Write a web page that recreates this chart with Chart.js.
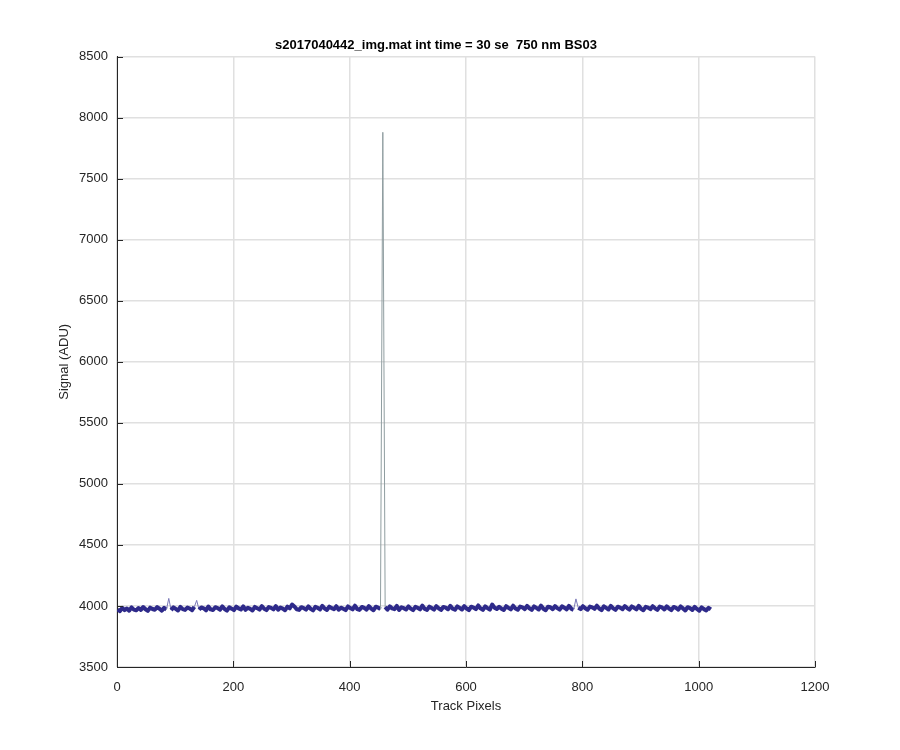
<!DOCTYPE html>
<html>
<head>
<meta charset="utf-8">
<script src="https://cdn.jsdelivr.net/npm/chart.js@4/dist/chart.umd.min.js"></script>
<style>
  html, body { margin: 0; padding: 0; background: #fff; }
  canvas { display: block; }
</style>
</head>
<body>
<canvas id="myChart" width="900" height="750"></canvas>
<script>
// Titulos y ejes
const chartTitle = "s2017040442_img.mat int time = 30 se  750 nm BS03";
const xLabel = "Track Pixels";
const yLabel = "Signal (ADU)";
const xTicks = [0, 200, 400, 600, 800, 1000, 1200];
const yTicks = [3500, 4000, 4500, 5000, 5500, 6000, 6500, 7000, 7500, 8000, 8500];

// Senal (una muestra cada 4 pixeles)
const pixelStep = 4;
const signal = [
  3972,3958,3985,3966,3979,3961,3988,3970,3964,3983,3968,3991,3973,3960,3986,3975,
  3969,3990,3977,3962,3984,3971,4062,3966,3989,3976,3963,3992,3974,3968,3987,3979,
  3965,3993,4046,3970,3988,3981,3964,3995,3972,3967,3990,3983,3969,3996,3975,3962,
  3989,3978,3966,3994,3980,3971,3997,3968,3985,3976,3963,3992,3982,3970,3998,3977,
  3966,3991,3984,3972,3999,3969,3987,3978,3965,3994,3981,4012,3996,3973,3968,3990,
  3983,3970,3997,3976,3964,3993,3985,3971,4001,3979,3967,3995,3982,3974,3998,3969,
  3986,3977,3966,3996,3983,3972,4002,3975,3968,3992,3984,3970,3999,3978,3965,3994,
  3987,3973,7880,3991,3969,3997,3980,3974,4000,3967,3989,3982,3971,3996,3978,3966,
  3993,3985,3972,4003,3976,3968,3995,3983,3970,3998,3981,3967,3992,3986,3973,4001,
  3977,3969,3996,3984,3971,3999,3979,3966,3994,3987,3974,4004,3980,3968,3997,3983,
  3970,4012,3986,3975,3993,3978,3967,3998,3985,3972,4002,3979,3969,3995,3988,3974,
  4000,3981,3968,3996,3984,3971,4003,3977,3965,3994,3989,3973,3999,3982,3970,3997,
  3986,3972,4001,3978,3967,4058,3985,3974,3998,3981,3969,3995,3988,3976,4002,3979,
  3966,3997,3984,3971,4000,3980,3968,3994,3987,3973,3999,3983,3970,3996,3985,3972,
  4001,3977,3965,3993,3986,3974,3998,3981,3968,3995,3988,3971,3997,3979,3966,3992,
  3984,3970,3996,3980,3963,3990,3982,3967,3993,3976,3961,3988,3974,3964,3985,3972
];
// Muestras con picos (rayos cosmicos)
const spikeIndices = [22, 34, 114, 197];
const mainSpike = 114;

const points = signal.map((v, i) => ({ x: 1 + i * pixelStep, y: v }));

function spikeOf(c) {
  return spikeIndices.find((s) => c.p0DataIndex === s - 1 || c.p0DataIndex === s);
}

// Marcas de los ejes hacia dentro (estilo MATLAB)
const innerTicks = {
  id: "innerTicks",
  afterDraw(chart) {
    const ctx = chart.ctx;
    const xs = chart.scales.x;
    const ys = chart.scales.y;
    const len = 6;
    ctx.save();
    ctx.strokeStyle = "#262626";
    ctx.lineWidth = 1;
    ctx.beginPath();
    yTicks.forEach((t) => {
      const y = Math.round(ys.getPixelForValue(t)) + 0.5;
      ctx.moveTo(xs.left, y);
      ctx.lineTo(xs.left + len, y);
    });
    xTicks.forEach((t) => {
      const x = Math.round(xs.getPixelForValue(t)) + 0.5;
      ctx.moveTo(x, ys.bottom);
      ctx.lineTo(x, ys.bottom - len);
    });
    ctx.stroke();
    ctx.restore();
  },
};

const font = "'Liberation Sans', Arial, Helvetica, sans-serif";

const ctx = document.getElementById("myChart").getContext("2d");
const myChart = new Chart(ctx, {
  type: "line",
  data: {
    datasets: [
      {
        data: points,
        borderColor: "#2e2a8a",
        borderWidth: 4,
        borderJoinStyle: "round",
        pointRadius: 0,
        tension: 0,
        segment: {
          borderColor: (c) => {
            const s = spikeOf(c);
            if (s === undefined) return undefined;
            return s === mainSpike ? "#8f9da0" : "#7a78b8";
          },
          borderWidth: (c) => (spikeOf(c) === undefined ? undefined : 1),
        },
      },
    ],
  },
  options: {
    responsive: false,
    animation: false,
    layout: { padding: { left: 57, right: 85, top: 0, bottom: 0 } },
    plugins: {
      legend: { display: false },
      tooltip: { enabled: false },
      title: {
        display: true,
        text: chartTitle,
        color: "#000",
        font: { family: font, size: 13, weight: "bold" },
        padding: { top: 38, bottom: 3 },
      },
    },
    scales: {
      x: {
        type: "linear",
        min: 0,
        max: 1200,
        afterBuildTicks: (s) => { s.ticks = xTicks.map((v) => ({ value: v })); },
        afterFit: (s) => { s.height = 83; },
        grid: { color: "#e0e0e0", lineWidth: 1.5, drawTicks: false },
        border: { color: "#262626", width: 1 },
        ticks: {
          color: "#262626",
          padding: 13,
          font: { family: font, size: 13 },
          maxRotation: 0,
          callback: (v) => String(v),
        },
        title: {
          display: true,
          text: xLabel,
          color: "#262626",
          font: { family: font, size: 13 },
          padding: { top: 0, bottom: 36 },
        },
      },
      y: {
        min: 3500,
        max: 8500,
        afterBuildTicks: (s) => { s.ticks = yTicks.map((v) => ({ value: v })); },
        afterFit: (s) => { s.width = 60; },
        grid: { color: "#e0e0e0", lineWidth: 1.5, drawTicks: false },
        border: { color: "#262626", width: 1 },
        ticks: {
          color: "#262626",
          padding: 9,
          font: { family: font, size: 13 },
          callback: (v) => String(v),
        },
        title: {
          display: true,
          text: yLabel,
          color: "#262626",
          font: { family: font, size: 13 },
          padding: 0,
        },
      },
    },
  },
  plugins: [innerTicks],
});
</script>
</body>
</html>
